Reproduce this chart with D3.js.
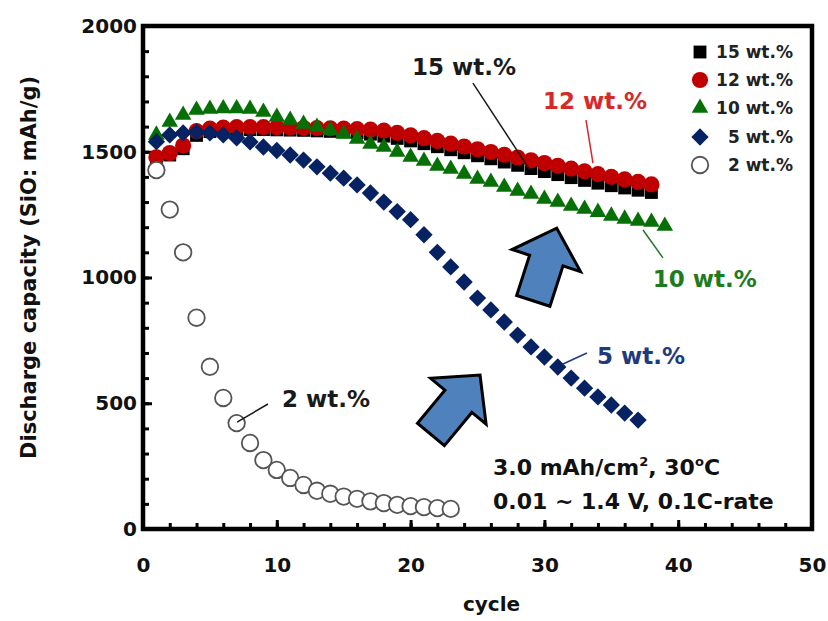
<!DOCTYPE html>
<html>
<head>
<meta charset="utf-8">
<script src="https://cdn.jsdelivr.net/npm/d3@7"></script>
<style>
  body { margin: 0; background: #fff; }
  svg { display: block; }
  text { font-family: "DejaVu Sans", sans-serif; font-weight: bold; }
</style>
</head>
<body>
<svg id="chart" width="828" height="621"></svg>
<script>
// Discharge capacity (mAh/g) per cycle, one array per binder content
const cap15 = [1467,1487,1512,1565,1580,1585,1587,1588,1588,1587,
               1586,1585,1583,1581,1579,1576,1570,1562,1553,1543,
               1532,1520,1508,1496,1484,1472,1459,1446,1433,1421,
               1409,1397,1386,1375,1365,1356,1347,1338];
const cap12 = [1478,1495,1525,1582,1592,1596,1598,1598,1598,1597,
               1596,1595,1594,1593,1592,1590,1588,1584,1575,1565,
               1554,1543,1532,1521,1510,1499,1488,1477,1466,1455,
               1444,1433,1422,1411,1400,1390,1380,1370];
const cap10 = [1567,1618,1646,1666,1670,1672,1672,1670,1658,1638,
               1626,1610,1598,1586,1571,1551,1531,1519,1499,1479,
               1463,1443,1431,1412,1392,1380,1360,1344,1332,1312,
               1300,1284,1272,1260,1245,1233,1225,1221,1205];
const cap5  = [1540,1567,1575,1579,1575,1567,1555,1539,1519,1505,
               1487,1467,1440,1415,1395,1368,1336,1300,1262,1230,
               1170,1100,1042,982,918,871,823,771,724,684,
               644,600,560,525,493,461,433];
const cap2  = [1427,1270,1100,840,645,521,421,342,274,235,
               203,175,152,140,129,120,110,103,96,91,
               87,83,80];

const seriesNames = ["15 wt.%", "12 wt.%", "10 wt.%", "5 wt.%", "2 wt.%"];
const xTicks = [0, 10, 20, 30, 40, 50];
const yTicks = [0, 500, 1000, 1500, 2000];

const svg = d3.select("#chart");

const x = d3.scaleLinear().domain([0, 50]).range([143, 812]);
const y = d3.scaleLinear().domain([0, 2000]).range([529, 26]);

// marker styles for each series
const styles = [
  { data: cap15, type: "square",   fill: "#000000", stroke: "none" },
  { data: cap12, type: "circle",   fill: "#c00000", stroke: "none" },
  { data: cap10, type: "triangle", fill: "#067006", stroke: "none" },
  { data: cap5,  type: "diamond",  fill: "#062263", stroke: "none" },
  { data: cap2,  type: "open",     fill: "#ffffff", stroke: "#555555" }
];

function markerPath(type, scale = 1) {
  const k = scale * scale;
  switch (type) {
    case "square":   return d3.symbol(d3.symbolSquare, 165 * k)();
    case "circle":   return d3.symbol(d3.symbolCircle, 205 * k)();
    case "triangle": return d3.symbol(d3.symbolTriangle, 118 * k)();
    case "diamond":  return d3.symbol(d3.symbolSquare, 150 * k)();
    case "open":     return d3.symbol(d3.symbolCircle, 215 * k)();
  }
}

// axes: minor ticks every 2 cycles / 100 mAh/g, labelled ticks every 10 / 500
const gx = svg.append("g").attr("transform", `translate(0,${y(0)})`);
gx.call(d3.axisBottom(x).tickValues(d3.range(0, 51, 2)).tickSize(-6).tickFormat(""));
gx.append("g").call(d3.axisBottom(x).tickValues(xTicks).tickSize(-9).tickPadding(29).tickFormat(d3.format("d")));
const gy = svg.append("g").attr("transform", `translate(${x(0)},0)`);
gy.call(d3.axisLeft(y).tickValues(d3.range(0, 2001, 100)).tickSize(-6).tickFormat(""));
gy.append("g").call(d3.axisLeft(y).tickValues(yTicks).tickSize(-9).tickPadding(6).tickFormat(d3.format("d")));
svg.selectAll(".domain").remove();
svg.selectAll(".tick line").attr("stroke", "#000").attr("stroke-width", 3);
svg.selectAll(".tick text").attr("fill", "#111").style("font-size", "20px")
  .style("font-family", "'DejaVu Sans', sans-serif").style("font-weight", "bold");

// frame
svg.append("rect")
  .attr("x", x(0)).attr("y", y(2000))
  .attr("width", x(50) - x(0)).attr("height", y(0) - y(2000))
  .attr("fill", "none").attr("stroke", "#000").attr("stroke-width", 4.5);

// axis titles
svg.append("text")
  .attr("transform", `translate(36,${(y(0) + y(2000)) / 2 - 10}) rotate(-90)`)
  .attr("text-anchor", "middle").attr("font-size", 21).attr("fill", "#111")
  .text("Discharge capacity (SiO: mAh/g)");
svg.append("text")
  .attr("x", (x(0) + x(50)) / 2 + 14).attr("y", 611)
  .attr("text-anchor", "middle").attr("font-size", 20).attr("fill", "#111")
  .text("cycle");

// data markers
const plot = svg.append("g");
styles.forEach(s => {
  plot.append("g").selectAll("path")
    .data(s.data)
    .join("path")
    .attr("d", markerPath(s.type))
    .attr("transform", (v, i) => `translate(${x(i + 1)},${y(v)})` + (s.type === "diamond" ? " rotate(45)" : ""))
    .attr("fill", s.fill)
    .attr("stroke", s.stroke)
    .attr("stroke-width", s.type === "open" ? 1.8 : 0);
});

// block arrows (tail and tip given in data units)
const arrows = [
  { tail: [21.52, 376], tip: [25.19, 612] },
  { tail: [29.17, 907], tip: [30.92, 1196] }
];
arrows.forEach(a => {
  const tx = x(a.tail[0]), ty = y(a.tail[1]);
  const px = x(a.tip[0]), py = y(a.tip[1]);
  const L = Math.hypot(px - tx, py - ty);
  const ux = (px - tx) / L, uy = (py - ty) / L;
  const nx = -uy, ny = ux;
  const headLen = 34, shaftHalf = 17.5, headHalf = 36;
  const bx = tx + ux * (L - headLen), by = ty + uy * (L - headLen);
  const pts = [
    [tx + nx * shaftHalf, ty + ny * shaftHalf],
    [bx + nx * shaftHalf, by + ny * shaftHalf],
    [bx + nx * headHalf, by + ny * headHalf],
    [px, py],
    [bx - nx * headHalf, by - ny * headHalf],
    [bx - nx * shaftHalf, by - ny * shaftHalf],
    [tx - nx * shaftHalf, ty - ny * shaftHalf]
  ];
  svg.append("polygon")
    .attr("points", pts.map(p => p.join(",")).join(" "))
    .attr("fill", "#4f81bd").attr("stroke", "#000")
    .attr("stroke-width", 3).attr("stroke-linejoin", "miter");
});

// series labels with leader lines (positions in data units)
const labels = [
  { text: "15 wt.%", color: "#1a1a1a", at: [20.1, 1805], line: [[24.66, 1773], [28.92, 1427]] },
  { text: "12 wt.%", color: "#d42a2a", at: [29.9, 1670], line: [[33.11, 1626], [33.63, 1455]] },
  { text: "10 wt.%", color: "#1e7b1e", at: [38.1, 962],  line: [[37.37, 1189], [38.86, 1078]] },
  { text: "5 wt.%",  color: "#1f3b80", at: [33.93, 658], line: [[33.18, 700], [31.39, 656]] },
  { text: "2 wt.%",  color: "#1a1a1a", at: [10.39, 485], line: [[9.34, 497], [7.03, 425]] }
];
labels.forEach(l => {
  svg.append("line")
    .attr("x1", x(l.line[0][0])).attr("y1", y(l.line[0][1]))
    .attr("x2", x(l.line[1][0])).attr("y2", y(l.line[1][1]))
    .attr("stroke", l.color).attr("stroke-width", 1.5);
  svg.append("text")
    .attr("x", x(l.at[0])).attr("y", y(l.at[1]))
    .attr("font-size", 23).attr("fill", l.color)
    .text(l.text);
});

// test conditions
const cond = svg.append("text").attr("x", 493).attr("y", 475).attr("font-size", 22).attr("fill", "#111");
cond.append("tspan").text("3.0 mAh/cm");
cond.append("tspan").attr("font-size", 13).attr("dy", -9).text("2");
cond.append("tspan").attr("dy", 9).text(", 30");
cond.append("tspan").attr("font-size", 13).attr("dy", -9).text("o");
cond.append("tspan").attr("dy", 9).text("C");
svg.append("text").attr("x", 493).attr("y", 509).attr("font-size", 22).attr("fill", "#111")
  .text("0.01 ~ 1.4 V, 0.1C-rate");

// legend
const legend = svg.append("g");
const legendY = [52, 80, 108, 137, 165];
styles.forEach((s, i) => {
  legend.append("path")
    .attr("d", markerPath(s.type, 1.0))
    .attr("transform", `translate(700,${legendY[i]})` + (s.type === "diamond" ? " rotate(45)" : ""))
    .attr("fill", s.fill).attr("stroke", s.stroke)
    .attr("stroke-width", s.type === "open" ? 1.8 : 0);
  legend.append("text")
    .attr("x", 793).attr("y", legendY[i] + 6)
    .attr("text-anchor", "end").attr("font-size", 17).attr("fill", "#222")
    .text(seriesNames[i]);
});
</script>
</body>
</html>
